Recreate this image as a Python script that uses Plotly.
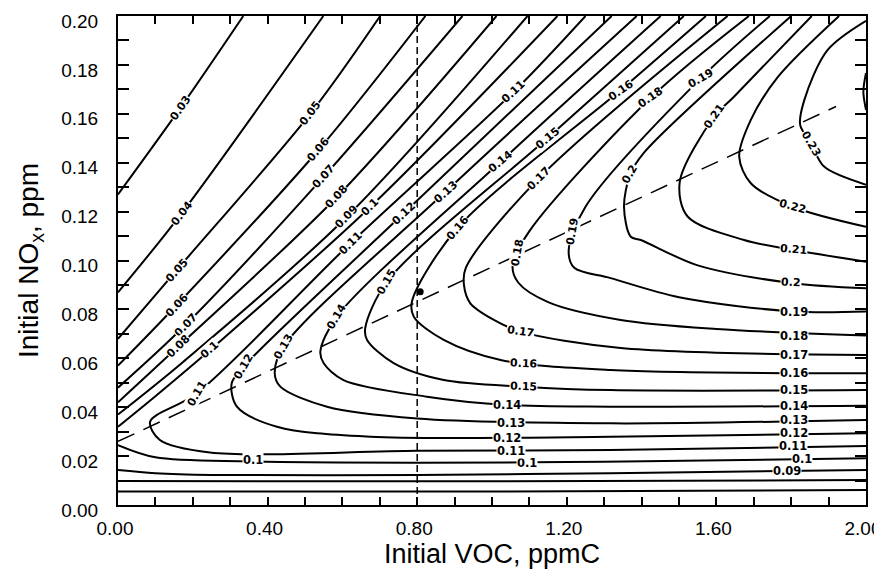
import plotly.graph_objects as go

# ---- contour lines (x = VOC ppmC, y = NOx ppm) ----
iso_003_x = [0.0, 0.166, 0.335]
iso_003_y = [0.127, 0.1622, 0.2]
iso_004_x = [0.0, 0.17, 0.549]
iso_004_y = [0.087, 0.1193, 0.2]
iso_005_x = [0.0, 0.157, 0.514, 0.701]
iso_005_y = [0.068, 0.0961, 0.160, 0.2]
iso_006_x = [0.0, 0.157, 0.536, 0.822]
iso_006_y = [0.057, 0.0818, 0.1452, 0.2]
iso_007_x = [0.0, 0.18, 0.55, 0.921]
iso_007_y = [0.048, 0.0736, 0.1343, 0.2]
iso_008_x = [0.0, 0.161, 0.585, 1.012]
iso_008_y = [0.042, 0.0648, 0.126, 0.2]
iso_009_x = [0.0, 0.17, 0.612, 1.095]
iso_009_y = [0.037, 0.058, 0.1179, 0.2]
iso_010_x = [0.0, 0.1, 0.246, 0.675, 1.175]
iso_010_y = [0.032, 0.0445, 0.0634, 0.122, 0.2]
iso_010b_x = [0.0, 0.1, 0.35, 0.8, 1.3, 2.0]
iso_010b_y = [0.0245, 0.0195, 0.0178, 0.0173, 0.0177, 0.0191]
iso_011_x = [1.25, 1.058, 0.621, 0.211, 0.086, 0.112, 0.246, 0.8, 1.317, 2.0]
iso_011_y = [0.2, 0.169, 0.107, 0.0457, 0.0341, 0.0266, 0.0215, 0.0222, 0.0225, 0.0241]
iso_012_x = [1.32, 0.764, 0.336, 0.304, 0.318, 0.425, 0.675, 1.317, 2.0]
iso_012_y = [0.2, 0.1193, 0.0566, 0.0498, 0.0402, 0.032, 0.0279, 0.0279, 0.0293]
iso_013_x = [1.387, 0.875, 0.443, 0.419, 0.434, 0.559, 0.8, 1.317, 2.0]
iso_013_y = [0.2, 0.128, 0.0648, 0.0539, 0.0484, 0.0402, 0.0354, 0.0334, 0.0348]
iso_014_x = [1.451, 1.023, 0.585, 0.541, 0.55, 0.603, 0.826, 1.04, 1.317, 2.0]
iso_014_y = [0.2, 0.1404, 0.077, 0.0627, 0.058, 0.0511, 0.0443, 0.0409, 0.0402, 0.0406]
iso_015_x = [1.513, 1.148, 0.719, 0.661, 0.666, 0.737, 0.871, 1.085, 1.317, 2.0]
iso_015_y = [0.2, 0.150, 0.0913, 0.0723, 0.0675, 0.058, 0.0511, 0.0484, 0.047, 0.047]
iso_016_x = [1.572, 1.344, 0.907, 0.786, 0.791, 0.871, 1.023, 1.317, 2.0]
iso_016_y = [0.2, 0.1697, 0.1132, 0.0832, 0.077, 0.0675, 0.0593, 0.0552, 0.0539]
iso_017_x = [1.63, 1.125, 0.93, 0.925, 0.942, 1.005, 1.076, 1.344, 2.0]
iso_017_y = [0.2, 0.1336, 0.097, 0.090, 0.0825, 0.0757, 0.0709, 0.0642, 0.0613]
iso_018_x = [1.687, 1.424, 1.1, 1.055, 1.07, 1.15, 1.344, 1.6, 2.0]
iso_018_y = [0.2, 0.1665, 0.112, 0.098, 0.091, 0.083, 0.0757, 0.072, 0.0693]
iso_019_x = [1.743, 1.558, 1.25, 1.205, 1.22, 1.317, 1.5, 1.807, 2.0]
iso_019_y = [0.2, 0.1745, 0.122, 0.104, 0.097, 0.0928, 0.085, 0.0791, 0.0791]
iso_020_x = [1.8, 1.406, 1.37, 1.353, 1.371, 1.398, 1.55, 1.8, 2.0]
iso_020_y = [0.2, 0.144, 0.1354, 0.122, 0.1097, 0.1084, 0.098, 0.0908, 0.0886]
iso_021_x = [1.855, 1.647, 1.594, 1.502, 1.523, 1.674, 1.807, 2.0]
iso_021_y = [0.2, 0.167, 0.1588, 0.1322, 0.118, 0.1084, 0.1043, 0.0995]
iso_022_x = [1.928, 1.764, 1.692, 1.661, 1.692, 1.804, 2.0]
iso_022_y = [0.2, 0.175, 0.1575, 0.1425, 0.1316, 0.122, 0.1138]
iso_023_x = [2.0, 1.897, 1.835, 1.824, 1.853, 1.888, 2.0]
iso_023_y = [0.198, 0.186, 0.1656, 0.1554, 0.148, 0.1384, 0.131]
iso_024_x = [2.0, 1.993, 2.0]
iso_024_y = [0.1767, 0.169, 0.1616]
iso_009b_x = [0.0, 0.1, 0.25, 0.8, 1.317, 2.0]
iso_009b_y = [0.0143, 0.013, 0.0123, 0.0123, 0.013, 0.0143]
iso_008b_x = [0.0, 1.0, 2.0]
iso_008b_y = [0.0098, 0.0097, 0.0102]
iso_007b_x = [0.0, 1.0, 2.0]
iso_007b_y = [0.0055, 0.0055, 0.0061]

contour_lines = [
    (iso_003_x, iso_003_y), (iso_004_x, iso_004_y), (iso_005_x, iso_005_y),
    (iso_006_x, iso_006_y), (iso_007_x, iso_007_y), (iso_008_x, iso_008_y),
    (iso_009_x, iso_009_y), (iso_010_x, iso_010_y), (iso_010b_x, iso_010b_y),
    (iso_011_x, iso_011_y), (iso_012_x, iso_012_y), (iso_013_x, iso_013_y),
    (iso_014_x, iso_014_y), (iso_015_x, iso_015_y), (iso_016_x, iso_016_y),
    (iso_017_x, iso_017_y), (iso_018_x, iso_018_y), (iso_019_x, iso_019_y),
    (iso_020_x, iso_020_y), (iso_021_x, iso_021_y), (iso_022_x, iso_022_y),
    (iso_023_x, iso_023_y), (iso_024_x, iso_024_y), (iso_009b_x, iso_009b_y),
    (iso_008b_x, iso_008b_y), (iso_007b_x, iso_007b_y),
]

# ridge line (dashed) and base-case VOC line
ridge_x = [0.0, 1.92]
ridge_y = [0.026, 0.163]
base_voc_x = [0.80, 0.80]
base_voc_y = [0.0, 0.2]
base_point_x = [0.808]
base_point_y = [0.0872]

# contour labels (text, x, y, angle)
label_text = ["0.03", "0.04", "0.05", "0.05", "0.06", "0.06", "0.07", "0.07",
              "0.08", "0.08", "0.09", "0.1", "0.1", "0.1", "0.1", "0.1",
              "0.11", "0.11", "0.11", "0.11", "0.11",
              "0.12", "0.12", "0.12", "0.12",
              "0.13", "0.13", "0.13", "0.13",
              "0.14", "0.14", "0.14", "0.14",
              "0.15", "0.15", "0.15", "0.15",
              "0.16", "0.16", "0.16", "0.16",
              "0.17", "0.17", "0.17",
              "0.18", "0.18", "0.18",
              "0.19", "0.19", "0.19",
              "0.2", "0.2", "0.21", "0.21", "0.22", "0.23", "0.09"]
label_x = [0.166, 0.1705, 0.514, 0.157, 0.536, 0.157, 0.55, 0.18,
           0.585, 0.161, 0.612, 0.675, 0.246, 0.36, 1.094, 1.83,
           0.621, 0.211, 1.058, 1.05, 1.804,
           0.336, 0.764, 1.041, 1.808,
           0.443, 0.875, 1.05, 1.808,
           0.585, 1.023, 1.04, 1.808,
           0.719, 1.148, 1.085, 1.808,
           0.907, 1.344, 1.084, 1.808,
           1.125, 1.076, 1.808,
           1.067, 1.424, 1.808,
           1.215, 1.558, 1.807,
           1.37, 1.80, 1.594, 1.807, 1.804, 1.853, 1.79]
label_y = [0.1622, 0.1193, 0.160, 0.0961, 0.1452, 0.0818, 0.1343, 0.0736,
           0.126, 0.0648, 0.1179, 0.122, 0.0634, 0.0184, 0.0173, 0.0190,
           0.107, 0.0457, 0.169, 0.0222, 0.0242,
           0.0566, 0.1193, 0.0275, 0.0293,
           0.0648, 0.128, 0.0337, 0.0348,
           0.077, 0.1404, 0.0409, 0.0406,
           0.0913, 0.150, 0.0484, 0.047,
           0.1132, 0.1697, 0.0577, 0.0539,
           0.1336, 0.0709, 0.0613,
           0.103, 0.1665, 0.0693,
           0.1118, 0.1745, 0.0791,
           0.1354, 0.0908, 0.1588, 0.1043, 0.122, 0.148, 0.0141]
label_angle = [-55, -52, -53, -48, -50, -47, -48, -46,
               -47, -44, -46, -45, -42, 0, 0, 0,
               -45, -60, -43, 0, 0,
               -60, -43, 0, 0,
               -60, -42, 0, 0,
               -60, -40, 0, 0,
               -60, -40, 2, 0,
               -50, -35, 3, 0,
               -45, 8, 0,
               -80, -35, 0,
               -80, -30, 0,
               -60, 3, -55, 5, 15, 60, 0]

x_major = [0.0, 0.4, 0.8, 1.2, 1.6, 2.0]
x_major_text = ["0.00", "0.40", "0.80", "1.20", "1.60", "2.00"]
y_major = [0.0, 0.02, 0.04, 0.06, 0.08, 0.10, 0.12, 0.14, 0.16, 0.18, 0.20]
y_major_text = ["0.00", "0.02", "0.04", "0.06", "0.08", "0.10",
                "0.12", "0.14", "0.16", "0.18", "0.20"]

FONT = "Liberation Sans, Arial, Helvetica, sans-serif"
LABEL_FONT = "DejaVu Sans, Verdana, sans-serif"

fig = go.Figure()
for xs, ys in contour_lines:
    fig.add_trace(go.Scatter(x=xs, y=ys, mode="lines",
                             line=dict(color="black", width=2.0, shape="spline", smoothing=0.9),
                             hoverinfo="skip", showlegend=False))

fig.add_trace(go.Scatter(x=ridge_x, y=ridge_y, mode="lines",
                         line=dict(color="black", width=1.5, dash="18px,10px"),
                         hoverinfo="skip", showlegend=False))
fig.add_trace(go.Scatter(x=base_voc_x, y=base_voc_y, mode="lines",
                         line=dict(color="black", width=1.5, dash="7px,4px"),
                         hoverinfo="skip", showlegend=False))
fig.add_trace(go.Scatter(x=base_point_x, y=base_point_y, mode="markers",
                         marker=dict(color="black", size=7),
                         hoverinfo="skip", showlegend=False))

for t, lx, ly, a in zip(label_text, label_x, label_y, label_angle):
    fig.add_annotation(x=lx, y=ly, text="<b>" + t + "</b>", showarrow=False,
                       textangle=a, bgcolor="white", borderpad=0,
                       font=dict(family=LABEL_FONT, size=11.5 if a == 0 else 11,
                                 color="black"))

# the page body has an 8px default margin; the figure is sized to fill the
# 882x569 window after that offset
fig.update_layout(
    width=874, height=561,
    margin=dict(l=110, r=16, t=8, b=64, autoexpand=False),
    paper_bgcolor="white", plot_bgcolor="white",
    font=dict(family=FONT, color="black"),
    xaxis=dict(range=[0, 2], tickvals=x_major, ticktext=x_major_text,
               ticks="inside", ticklen=8, tickwidth=1.5, tickcolor="black",
               minor=dict(dtick=0.1, tick0=0, ticks="inside", ticklen=8,
                          tickwidth=1.5, tickcolor="black"),
               showline=True, linewidth=2, linecolor="black", mirror="ticks",
               showgrid=False, zeroline=False, automargin=False,
               ticklabeloverflow="allow", ticklabelshift=-3,
               tickfont=dict(size=19), ticklabelstandoff=5,
               title=dict(text="Initial VOC, ppmC", font=dict(size=27), standoff=9)),
    yaxis=dict(range=[0, 0.2], tickvals=y_major, ticktext=y_major_text,
               ticks="inside", ticklen=11, tickwidth=1.5, tickcolor="black",
               minor=dict(dtick=0.01, tick0=0, ticks="inside", ticklen=11,
                          tickwidth=1.5, tickcolor="black"),
               showline=True, linewidth=2, linecolor="black", mirror="ticks",
               showgrid=False, zeroline=False, automargin=False,
               ticklabeloverflow="allow", ticklabelshift=5,
               tickfont=dict(size=19), ticklabelstandoff=14,
               title=dict(text="Initial NO<sub>x</sub>, ppm", font=dict(size=28), standoff=14)),
)

fig.write_html("out.html")
